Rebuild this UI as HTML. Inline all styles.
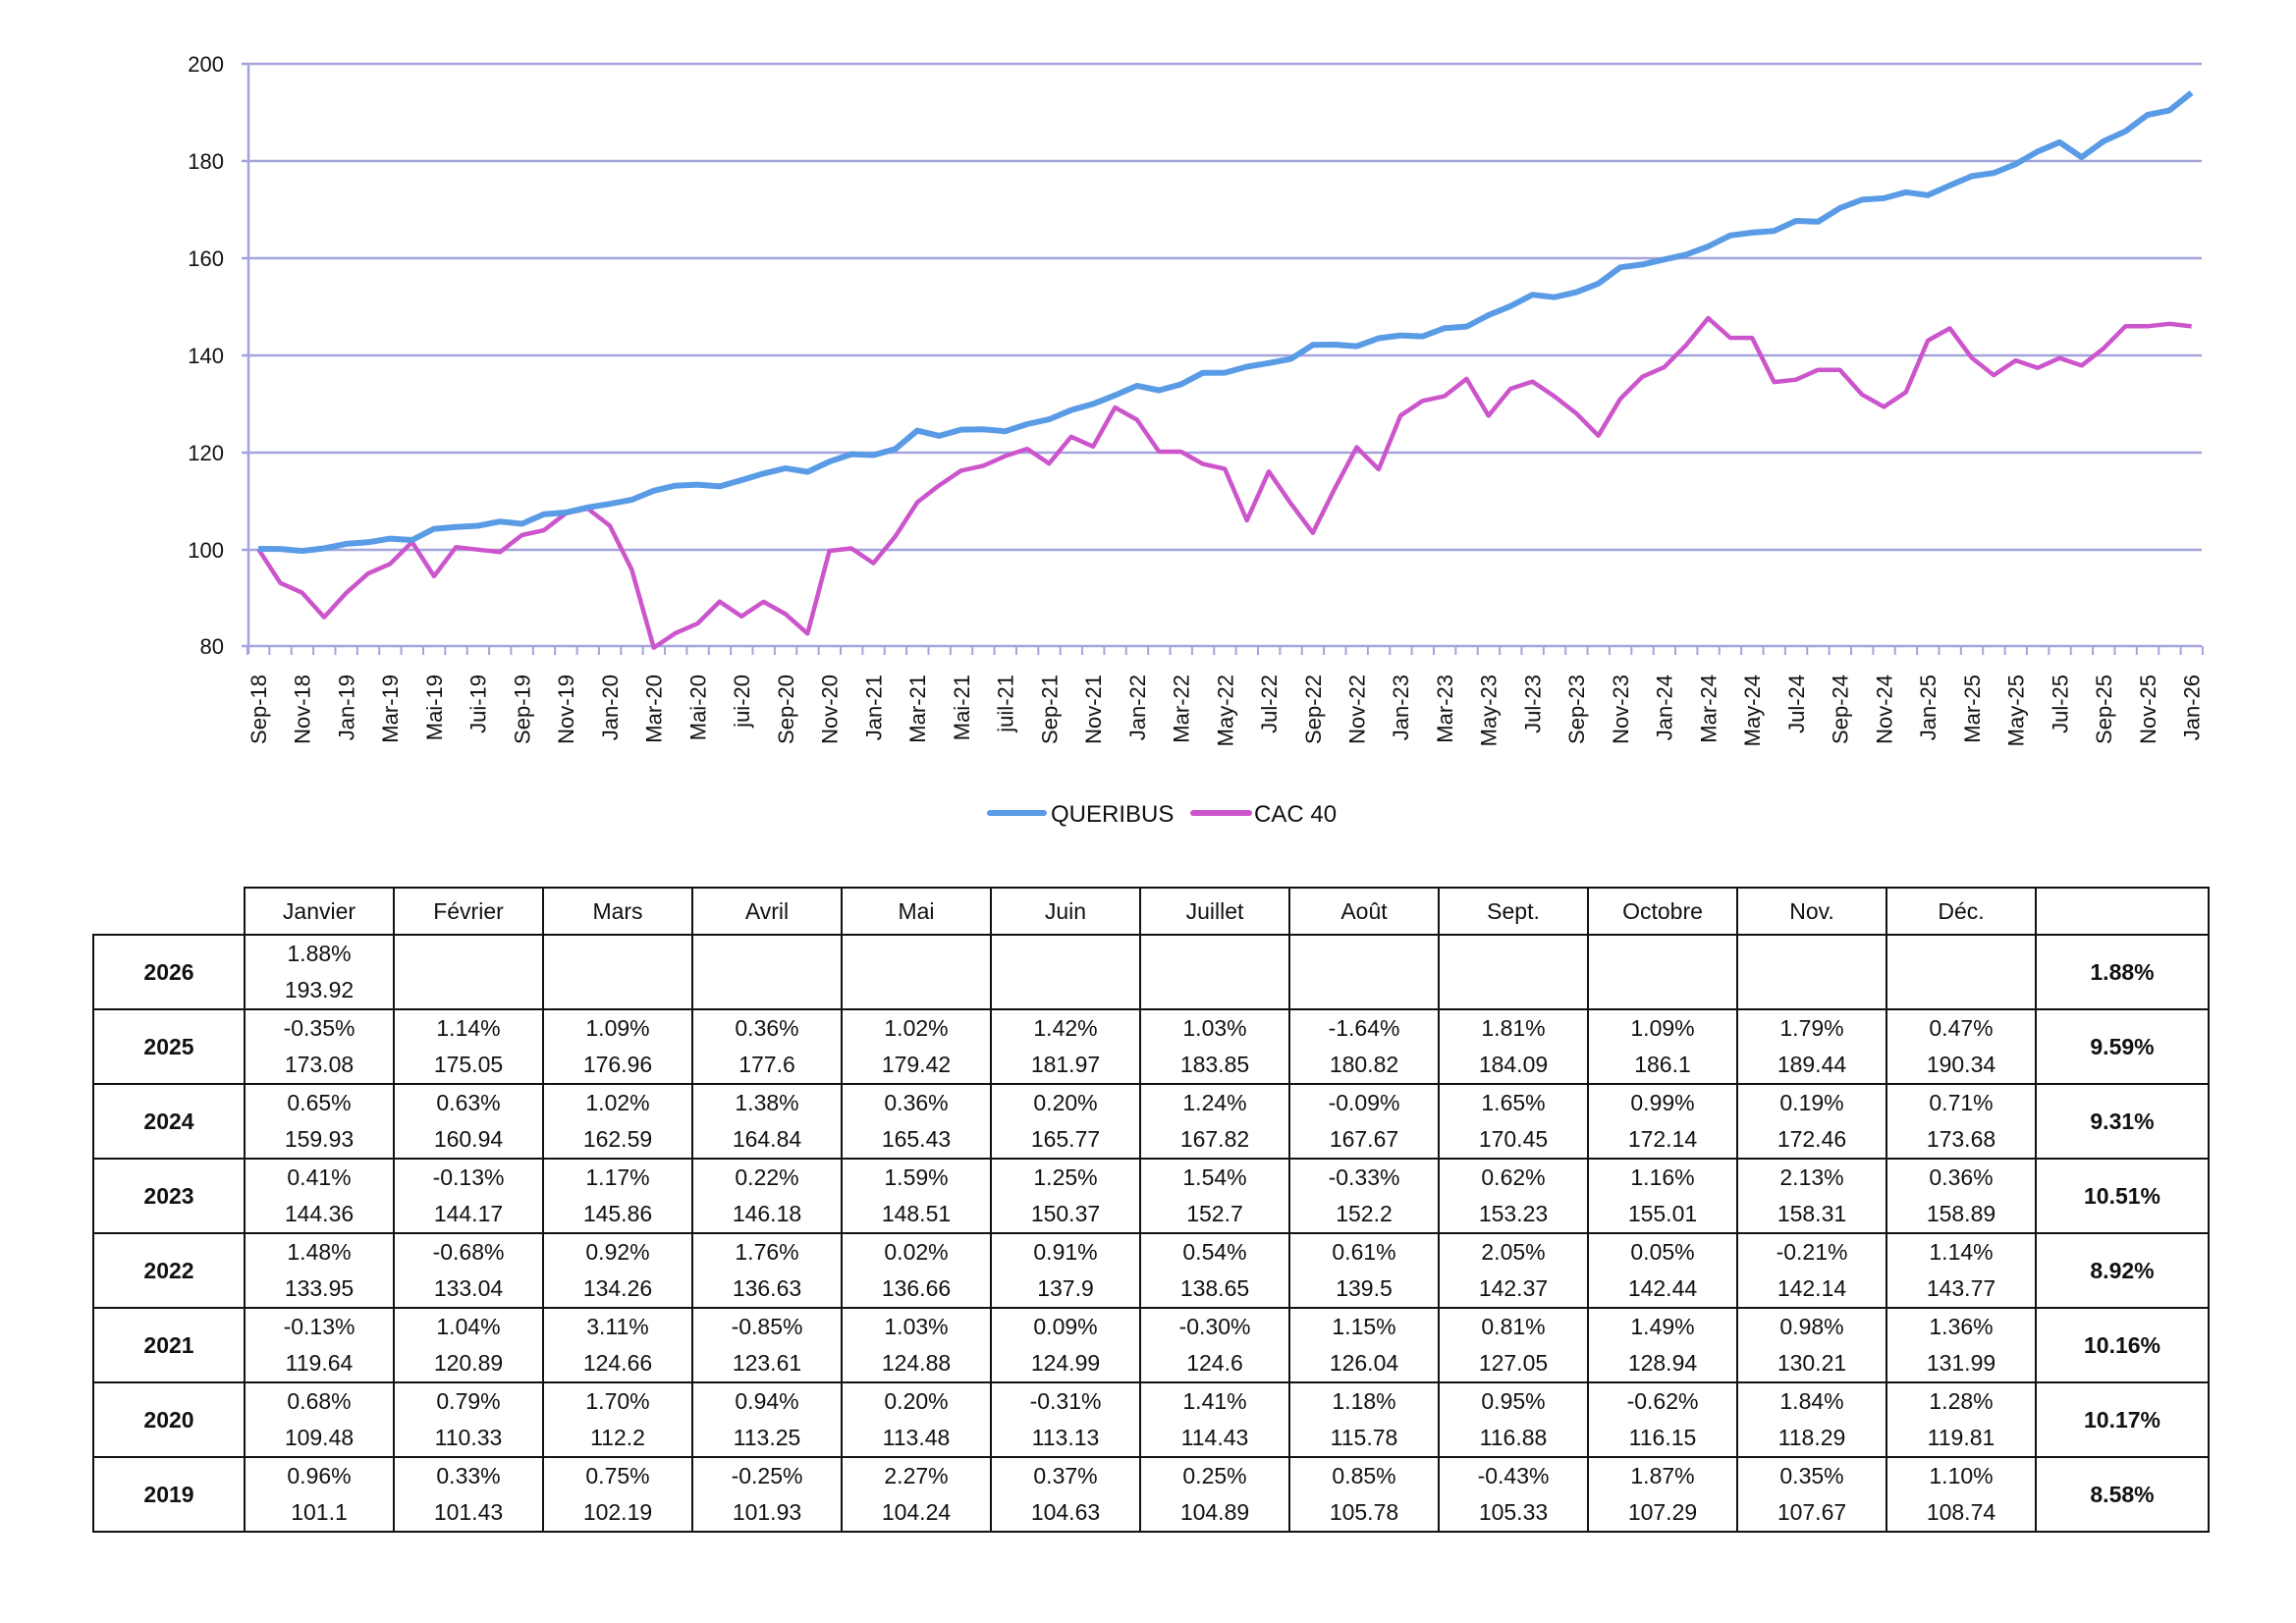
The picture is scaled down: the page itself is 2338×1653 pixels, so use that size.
<!DOCTYPE html>
<html><head><meta charset="utf-8">
<style>
html,body{margin:0;padding:0;background:#fff;}
body{width:2338px;height:1653px;position:relative;overflow:hidden;font-family:"Liberation Sans",sans-serif;}
svg{position:absolute;left:0;top:0;}
table{position:absolute;left:94px;top:903px;border-collapse:collapse;font-family:"Liberation Sans Narrow","Liberation Sans",sans-serif;font-size:23px;color:#111;table-layout:fixed;}
td{border:2.5px solid #111;text-align:center;padding:0;}
tr.h td{height:46px;}
tr.h td.blank{border:none;border-bottom:2.5px solid #111;}
tr.r td{height:74px;line-height:37px;vertical-align:middle;}
td.y{font-weight:bold;}
td.t{font-weight:bold;}
</style></head><body>
<svg width="2338" height="1653" viewBox="0 0 2338 1653">
<g stroke="#a4a4dc" stroke-width="2.5">
<line x1="246" y1="65" x2="2242" y2="65"/>
<line x1="246" y1="164" x2="2242" y2="164"/>
<line x1="246" y1="263" x2="2242" y2="263"/>
<line x1="246" y1="362" x2="2242" y2="362"/>
<line x1="246" y1="461" x2="2242" y2="461"/>
<line x1="246" y1="560" x2="2242" y2="560"/>
<line x1="246" y1="658" x2="2242" y2="658"/>
<line x1="253" y1="65" x2="253" y2="666"/>
</g>
<g id="ticks" stroke="#a4a4dc" stroke-width="2"></g>
<g font-size="22" fill="#111" text-anchor="end">
<text x="228" y="73">200</text><text x="228" y="172">180</text><text x="228" y="271">160</text><text x="228" y="370">140</text><text x="228" y="469">120</text><text x="228" y="568">100</text><text x="228" y="666">80</text>
</g>
<g id="xl" font-size="22" fill="#111" text-anchor="end"></g>
<polyline id="cac" fill="none" stroke="#cc55cc" stroke-width="4.5" stroke-linejoin="round"/>
<polyline id="que" fill="none" stroke="#5a9be6" stroke-width="6" stroke-linejoin="round"/>
<line x1="1008" y1="828" x2="1063" y2="828" stroke="#5a9be6" stroke-width="6" stroke-linecap="round"/>
<text x="1070" y="837" font-size="24" fill="#111">QUERIBUS</text>
<line x1="1215" y1="828" x2="1272" y2="828" stroke="#cc55cc" stroke-width="6" stroke-linecap="round"/>
<text x="1277" y="837" font-size="24" fill="#111">CAC 40</text>
</svg>
<table>
<colgroup><col style="width:154px"><col style="width:152px"><col style="width:152px"><col style="width:152px"><col style="width:152px"><col style="width:152px"><col style="width:152px"><col style="width:152px"><col style="width:152px"><col style="width:152px"><col style="width:152px"><col style="width:152px"><col style="width:152px"><col style="width:176px"></colgroup>
<tr class="h"><td class="blank"></td><td>Janvier</td><td>Février</td><td>Mars</td><td>Avril</td><td>Mai</td><td>Juin</td><td>Juillet</td><td>Août</td><td>Sept.</td><td>Octobre</td><td>Nov.</td><td>Déc.</td><td></td></tr>
<tr class="r"><td class="y">2026</td><td>1.88%<br>193.92</td><td></td><td></td><td></td><td></td><td></td><td></td><td></td><td></td><td></td><td></td><td></td><td class="t">1.88%</td></tr>
<tr class="r"><td class="y">2025</td><td>-0.35%<br>173.08</td><td>1.14%<br>175.05</td><td>1.09%<br>176.96</td><td>0.36%<br>177.6</td><td>1.02%<br>179.42</td><td>1.42%<br>181.97</td><td>1.03%<br>183.85</td><td>-1.64%<br>180.82</td><td>1.81%<br>184.09</td><td>1.09%<br>186.1</td><td>1.79%<br>189.44</td><td>0.47%<br>190.34</td><td class="t">9.59%</td></tr>
<tr class="r"><td class="y">2024</td><td>0.65%<br>159.93</td><td>0.63%<br>160.94</td><td>1.02%<br>162.59</td><td>1.38%<br>164.84</td><td>0.36%<br>165.43</td><td>0.20%<br>165.77</td><td>1.24%<br>167.82</td><td>-0.09%<br>167.67</td><td>1.65%<br>170.45</td><td>0.99%<br>172.14</td><td>0.19%<br>172.46</td><td>0.71%<br>173.68</td><td class="t">9.31%</td></tr>
<tr class="r"><td class="y">2023</td><td>0.41%<br>144.36</td><td>-0.13%<br>144.17</td><td>1.17%<br>145.86</td><td>0.22%<br>146.18</td><td>1.59%<br>148.51</td><td>1.25%<br>150.37</td><td>1.54%<br>152.7</td><td>-0.33%<br>152.2</td><td>0.62%<br>153.23</td><td>1.16%<br>155.01</td><td>2.13%<br>158.31</td><td>0.36%<br>158.89</td><td class="t">10.51%</td></tr>
<tr class="r"><td class="y">2022</td><td>1.48%<br>133.95</td><td>-0.68%<br>133.04</td><td>0.92%<br>134.26</td><td>1.76%<br>136.63</td><td>0.02%<br>136.66</td><td>0.91%<br>137.9</td><td>0.54%<br>138.65</td><td>0.61%<br>139.5</td><td>2.05%<br>142.37</td><td>0.05%<br>142.44</td><td>-0.21%<br>142.14</td><td>1.14%<br>143.77</td><td class="t">8.92%</td></tr>
<tr class="r"><td class="y">2021</td><td>-0.13%<br>119.64</td><td>1.04%<br>120.89</td><td>3.11%<br>124.66</td><td>-0.85%<br>123.61</td><td>1.03%<br>124.88</td><td>0.09%<br>124.99</td><td>-0.30%<br>124.6</td><td>1.15%<br>126.04</td><td>0.81%<br>127.05</td><td>1.49%<br>128.94</td><td>0.98%<br>130.21</td><td>1.36%<br>131.99</td><td class="t">10.16%</td></tr>
<tr class="r"><td class="y">2020</td><td>0.68%<br>109.48</td><td>0.79%<br>110.33</td><td>1.70%<br>112.2</td><td>0.94%<br>113.25</td><td>0.20%<br>113.48</td><td>-0.31%<br>113.13</td><td>1.41%<br>114.43</td><td>1.18%<br>115.78</td><td>0.95%<br>116.88</td><td>-0.62%<br>116.15</td><td>1.84%<br>118.29</td><td>1.28%<br>119.81</td><td class="t">10.17%</td></tr>
<tr class="r"><td class="y">2019</td><td>0.96%<br>101.1</td><td>0.33%<br>101.43</td><td>0.75%<br>102.19</td><td>-0.25%<br>101.93</td><td>2.27%<br>104.24</td><td>0.37%<br>104.63</td><td>0.25%<br>104.89</td><td>0.85%<br>105.78</td><td>-0.43%<br>105.33</td><td>1.87%<br>107.29</td><td>0.35%<br>107.67</td><td>1.10%<br>108.74</td><td class="t">8.58%</td></tr>
</table>
<script>
var q=[100,100,99.6,100.14,101.1,101.43,102.19,101.93,104.24,104.63,104.89,105.78,105.33,107.29,107.67,108.74,109.48,110.33,112.2,113.25,113.48,113.13,114.43,115.78,116.88,116.15,118.29,119.81,119.64,120.89,124.66,123.61,124.88,124.99,124.6,126.04,127.05,128.94,130.21,131.99,133.95,133.04,134.26,136.63,136.66,137.9,138.65,139.5,142.37,142.44,142.14,143.77,144.36,144.17,145.86,146.18,148.51,150.37,152.7,152.2,153.23,155.01,158.31,158.89,159.93,160.94,162.59,164.84,165.43,165.77,167.82,167.67,170.45,172.14,172.46,173.68,173.08,175.05,176.96,177.6,179.42,181.97,183.85,180.82,184.09,186.1,189.44,190.34,193.92];
var c=[100,93,91,86,91,95,97,101.5,94.5,100.5,100,99.5,103,104,107.5,108.5,105,96,80,83,85,89.5,86.5,89.5,87,83,100,100.5,97.5,103,110,113.5,116.5,117.5,119.5,121,118,123.5,121.5,129.5,127,120.5,120.5,118,117,106.5,116.5,110,104,113,121.5,117,128,131,132,135.5,128,133.5,135,132,128.5,124,131.5,136,138,142.5,148,144,144,135,135.5,137.5,137.5,132.5,130,133,143.5,146,140,136.5,139.5,138,140,138.5,142,146.5,146.5,147,146.5];
function X(i){return 263+22.37*i;}
function Y(v,i){return 658-(v-80)*4.95 + (i||0)*0.09*((200-v)/120);}
function pts(a){return a.map(function(v,i){return X(i).toFixed(1)+","+Y(v,i).toFixed(1);}).join(" ");}
document.getElementById("que").setAttribute("points",pts(q));
document.getElementById("cac").setAttribute("points",pts(c));
var lab=["Sep-18","Nov-18","Jan-19","Mar-19","Mai-19","Jui-19","Sep-19","Nov-19","Jan-20","Mar-20","Mai-20","jui-20","Sep-20","Nov-20","Jan-21","Mar-21","Mai-21","juil-21","Sep-21","Nov-21","Jan-22","Mar-22","May-22","Jul-22","Sep-22","Nov-22","Jan-23","Mar-23","May-23","Jul-23","Sep-23","Nov-23","Jan-24","Mar-24","May-24","Jul-24","Sep-24","Nov-24","Jan-25","Mar-25","May-25","Jul-25","Sep-25","Nov-25","Jan-26"];
var ns="http://www.w3.org/2000/svg",g=document.getElementById("xl"),tk=document.getElementById("ticks");
lab.forEach(function(s,k){var t=document.createElementNS(ns,"text");var x=X(2*k)+8;t.setAttribute("transform","translate("+x+",687) rotate(-90)");t.textContent=s;g.appendChild(t);});
for(var i=0;i<=89;i++){var l=document.createElementNS(ns,"line");var x=252+22.37*i;l.setAttribute("x1",x);l.setAttribute("x2",x);l.setAttribute("y1",658);l.setAttribute("y2",667);tk.appendChild(l);}
</script>
</body></html>
